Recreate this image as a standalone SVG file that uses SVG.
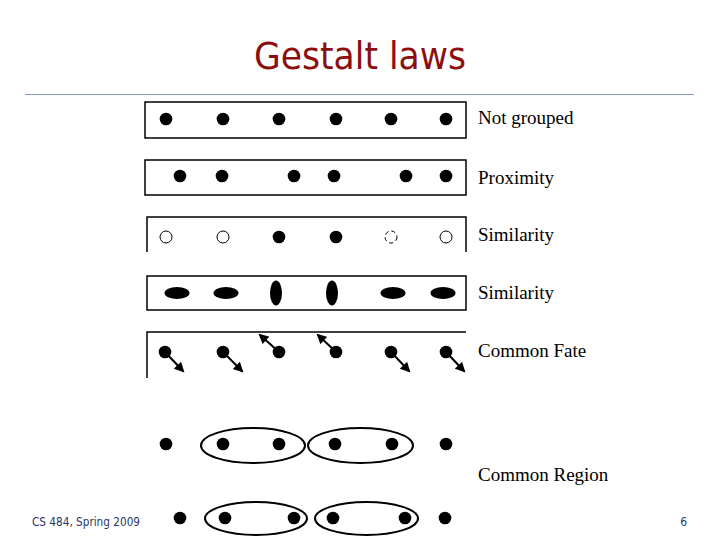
<svg xmlns="http://www.w3.org/2000/svg" width="720" height="540" viewBox="0 0 720 540">
<defs>
<style>
.box{fill:none;stroke:#000;stroke-width:1.5}
.dot{fill:#000}
.open{fill:#fff;stroke:#000;stroke-width:1}
.reg{fill:none;stroke:#000;stroke-width:2}
.lbl{font-family:"Liberation Serif","Times New Roman",serif;font-size:19px;fill:#000}
.arr{stroke:#000;stroke-width:2;fill:none}
</style>
<marker id="ah" viewBox="0 0 10 10" refX="8" refY="5" markerWidth="5.5" markerHeight="5" orient="auto">
<path d="M0,0 L10,5 L0,10 z" fill="#000"/>
</marker>
</defs>
<rect width="720" height="540" fill="#fff"/>
<text x="360" y="69" text-anchor="middle" font-family="'DejaVu Sans Condensed','DejaVu Sans',sans-serif" font-size="37" fill="#8b0f0f" textLength="212" lengthAdjust="spacingAndGlyphs">Gestalt laws</text>
<line x1="25" y1="94.5" x2="694" y2="94.5" stroke="#7f9bbd" stroke-width="1"/>

<g id="not-grouped">
<rect class="box" x="145" y="102" width="321" height="36"/>
<circle class="dot" cx="166" cy="119" r="6.3"/><circle class="dot" cx="223" cy="119" r="6.3"/><circle class="dot" cx="279" cy="119" r="6.3"/><circle class="dot" cx="336" cy="119" r="6.3"/><circle class="dot" cx="391" cy="119" r="6.3"/><circle class="dot" cx="446" cy="119" r="6.3"/>
<text class="lbl" x="478" y="124">Not grouped</text>
</g>

<g id="proximity">
<rect class="box" x="145" y="160" width="321" height="35"/>
<circle class="dot" cx="180" cy="176" r="6.3"/><circle class="dot" cx="222" cy="176" r="6.3"/><circle class="dot" cx="294" cy="176" r="6.3"/><circle class="dot" cx="334" cy="176" r="6.3"/><circle class="dot" cx="406" cy="176" r="6.3"/><circle class="dot" cx="446" cy="176" r="6.3"/>
<text class="lbl" x="478" y="184">Proximity</text>
</g>

<g id="similarity-color">
<path class="box" d="M147,252 V217 H466 V252"/>
<circle class="open" cx="166" cy="237" r="6"/><circle class="open" cx="223" cy="237" r="6"/><circle class="dot" cx="279" cy="237" r="6.3"/><circle class="dot" cx="336" cy="237" r="6.3"/><circle class="open" cx="391" cy="237" r="6" stroke-dasharray="4,3"/><circle class="open" cx="446" cy="237" r="6"/>
<text class="lbl" x="478" y="241">Similarity</text>
</g>

<g id="similarity-shape">
<rect class="box" x="147" y="276" width="319" height="34"/>
<ellipse class="dot" cx="177" cy="293" rx="12.5" ry="6"/><ellipse class="dot" cx="226" cy="293" rx="12.5" ry="6"/><ellipse class="dot" cx="276" cy="293" rx="6" ry="12.5"/><ellipse class="dot" cx="332" cy="293" rx="6" ry="12.5"/><ellipse class="dot" cx="393" cy="293" rx="12.5" ry="6"/><ellipse class="dot" cx="443" cy="293" rx="12.5" ry="6"/>
<text class="lbl" x="478" y="299">Similarity</text>
</g>

<g id="common-fate">
<path class="box" d="M147,378 V332 H466"/>
<circle class="dot" cx="165" cy="352" r="6.3"/><circle class="dot" cx="223" cy="352" r="6.3"/><circle class="dot" cx="279" cy="352" r="6.3"/><circle class="dot" cx="336" cy="352" r="6.3"/><circle class="dot" cx="391" cy="352" r="6.3"/><circle class="dot" cx="446" cy="352" r="6.3"/>
<text class="lbl" x="478" y="357">Common Fate</text>
</g>

<g id="common-region">
<circle class="dot" cx="166" cy="444" r="6.3"/><circle class="dot" cx="223" cy="444" r="6.3"/><circle class="dot" cx="279" cy="444" r="6.3"/><circle class="dot" cx="335" cy="444" r="6.3"/><circle class="dot" cx="392" cy="444" r="6.3"/><circle class="dot" cx="446" cy="444" r="6.3"/>
<ellipse class="reg" cx="253" cy="445.5" rx="52" ry="17.5"/><ellipse class="reg" cx="360.5" cy="445.5" rx="52.5" ry="17.5"/>
<circle class="dot" cx="180" cy="518" r="6.3"/><circle class="dot" cx="225" cy="518" r="6.3"/><circle class="dot" cx="294" cy="518" r="6.3"/><circle class="dot" cx="333" cy="518" r="6.3"/><circle class="dot" cx="405" cy="518" r="6.3"/><circle class="dot" cx="445" cy="518" r="6.3"/>
<ellipse class="reg" cx="256" cy="518.5" rx="51" ry="16.5"/><ellipse class="reg" cx="366.5" cy="518.5" rx="51.5" ry="16.5"/>
<text class="lbl" x="478" y="481">Common Region</text>
</g>

<g id="connectors">
<line class="arr" x1="165" y1="352" x2="183" y2="371" marker-end="url(#ah)"/>
<line class="arr" x1="223" y1="352" x2="242" y2="371" marker-end="url(#ah)"/>
<line class="arr" x1="279" y1="352" x2="260" y2="335" marker-end="url(#ah)"/>
<line class="arr" x1="336" y1="352" x2="318" y2="335" marker-end="url(#ah)"/>
<line class="arr" x1="391" y1="352" x2="409" y2="371" marker-end="url(#ah)"/>
<line class="arr" x1="446" y1="352" x2="464" y2="371" marker-end="url(#ah)"/>
</g>

<text x="32" y="526" font-family="'DejaVu Sans Condensed','DejaVu Sans',sans-serif" font-size="12" fill="#2a3563" textLength="108" lengthAdjust="spacingAndGlyphs">CS 484, Spring 2009</text>
<text x="687" y="526" text-anchor="end" font-family="'DejaVu Sans Condensed','DejaVu Sans',sans-serif" font-size="12" fill="#2a3563">6</text>
</svg>
